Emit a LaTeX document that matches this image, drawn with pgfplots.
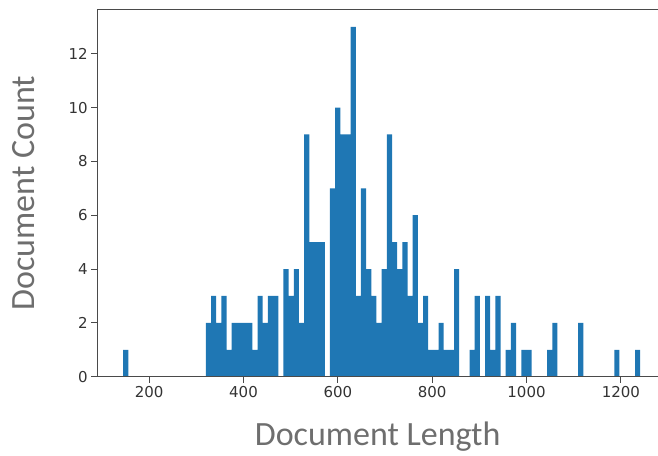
\documentclass[border=0pt]{standalone}
\usepackage{pgfplots}
\pgfplotsset{compat=1.18}
\usepackage{fontspec}
\setmainfont{Carlito}
\newfontfamily\dejavu{DejaVu Sans}
\definecolor{c0}{HTML}{1F77B4}
\definecolor{lab}{HTML}{6E6E6E}
\definecolor{spine}{HTML}{4A4A4A}
\begin{document}
\begin{tikzpicture}
\useasboundingbox (-97.3pt,-78.3pt) rectangle (560.7pt,376.7pt);
\begin{axis}[
  at={(0pt,0pt)}, anchor=south west,
  scale only axis, width=560.7pt, height=367.4pt,
  xmin=90.0, xmax=1278.7, ymin=0, ymax=13.65,
  axis x line*=box, axis y line*=left,
  xtick={200,400,...,1200}, ytick={0,2,...,12},
  tick align=outside, xtick pos=bottom, ytick pos=left,
  major tick length=6pt,
  every tick/.style={spine, line width=1pt},
  axis line style={spine, line width=1pt, -},
  ticklabel style={font=\dejavu\fontsize{15}{18}\selectfont, text=black!80},
  /pgf/number format/assume math mode=true,
  /pgf/number format/1000 sep={},
  xlabel={Document Length}, ylabel={Document Count},
  every axis x label/.style={at={(axis description cs:0.5,-0.1860)}, anchor=base, font=\fontsize{34}{40}\selectfont, text=lab},
  every axis y label/.style={at={(axis description cs:-0.11111,0.5)}, rotate=90, anchor=base, font=\fontsize{34}{40}\selectfont, text=lab},
  axis on top,
]
\addplot[ybar interval, fill=c0, draw=none] table {
x y
144.80 1
155.76 0
166.72 0
177.68 0
188.64 0
199.61 0
210.57 0
221.53 0
232.49 0
243.45 0
254.41 0
265.37 0
276.33 0
287.29 0
298.25 0
309.22 0
320.18 2
331.14 3
342.10 2
353.06 3
364.02 1
374.98 2
385.94 2
396.90 2
407.86 2
418.83 1
429.79 3
440.75 2
451.71 3
462.67 3
473.63 0
484.59 4
495.55 3
506.51 4
517.47 2
528.44 9
539.40 5
550.36 5
561.32 5
572.28 0
583.24 7
594.20 10
605.16 9
616.12 9
627.08 13
638.05 3
649.01 7
659.97 4
670.93 3
681.89 2
692.85 4
703.81 9
714.77 5
725.73 4
736.69 5
747.66 3
758.62 6
769.58 2
780.54 3
791.50 1
802.46 1
813.42 2
824.38 1
835.34 1
846.30 4
857.27 0
868.23 0
879.19 1
890.15 3
901.11 0
912.07 3
923.03 1
933.99 3
944.95 0
955.91 1
966.88 2
977.84 0
988.80 1
999.76 1
1010.72 0
1021.68 0
1032.64 0
1043.60 1
1054.56 2
1065.52 0
1076.49 0
1087.45 0
1098.41 0
1109.37 2
1120.33 0
1131.29 0
1142.25 0
1153.21 0
1164.17 0
1175.13 0
1186.10 1
1197.06 0
1208.02 0
1218.98 0
1229.94 1
1240.90 1
};
\end{axis}
\end{tikzpicture}
\end{document}
